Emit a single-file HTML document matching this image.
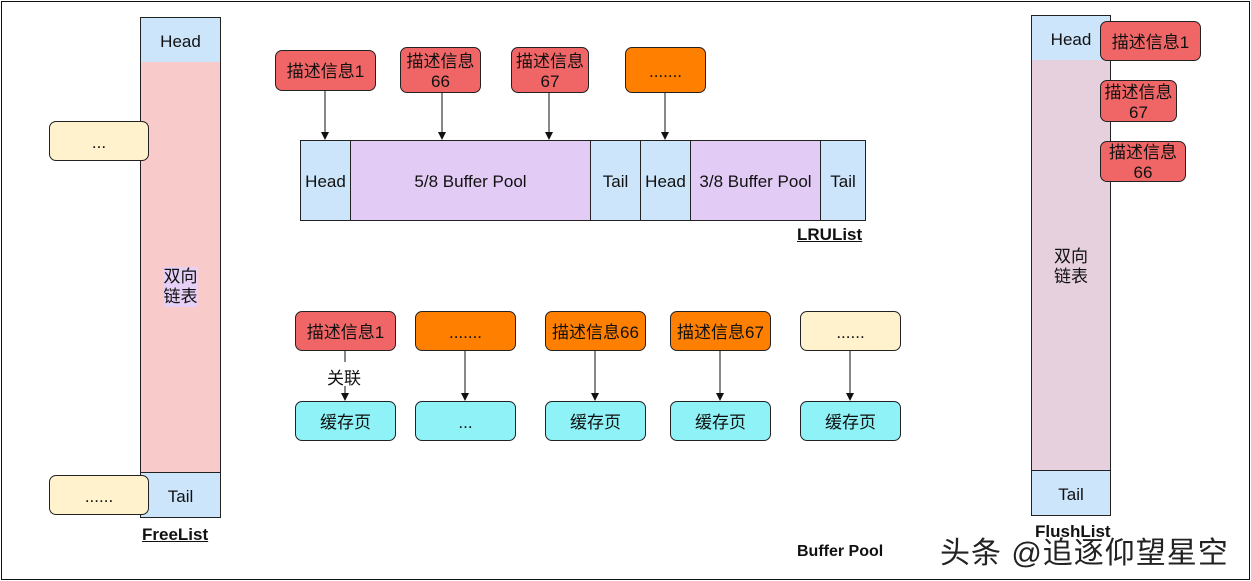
<!DOCTYPE html>
<html><head><meta charset="utf-8"><style>
body{margin:0;width:1251px;height:581px;background:#fff;position:relative;overflow:hidden;font-family:"Liberation Sans","Noto Sans CJK SC",sans-serif;color:#111;}
.b{position:absolute;box-sizing:border-box;border:1px solid #222;display:flex;align-items:center;justify-content:center;text-align:center;font-size:17px;line-height:20px;padding-top:3px;}
.r{border-radius:7px;}
.red{background:#f06666;}
.org{background:#ff8000;}
.yel{background:#fff2cc;}
.cy{background:#8ef2f6;}
.blu{background:#cce5fb;}
.pk{background:#f9caca;}
.pu{background:#e2cbf5;}
.fl{background:#e6d0de;}
.t{position:absolute;font-size:17px;}
.bold{font-weight:bold;text-decoration:underline;}
</style></head><body>
<div style="position:absolute;left:1px;top:1px;width:1247px;height:577px;border:1px solid #111;"></div>

<!-- FreeList -->
<div class="b blu" style="left:140px;top:17px;width:81px;height:46px;">Head</div>
<div class="b pk" style="left:140px;top:62px;width:81px;height:411px;border-top:none;padding-top:40px;"><span style="background:#e6d0f5">双向<br>链表</span></div>
<div class="b blu" style="left:140px;top:472px;width:81px;height:46px;">Tail</div>
<div class="b r yel" style="left:49px;top:121px;width:100px;height:40px;">...</div>
<div class="b r yel" style="left:49px;top:475px;width:100px;height:40px;">......</div>
<div class="t bold" style="left:142px;top:525px;">FreeList</div>

<!-- LRU -->
<div class="b blu" style="left:300px;top:140px;width:51px;height:81px;">Head</div>
<div class="b pu" style="left:350px;top:140px;width:241px;height:81px;">5/8 Buffer Pool</div>
<div class="b blu" style="left:590px;top:140px;width:51px;height:81px;">Tail</div>
<div class="b blu" style="left:640px;top:140px;width:51px;height:81px;">Head</div>
<div class="b pu" style="left:690px;top:140px;width:131px;height:81px;">3/8 Buffer Pool</div>
<div class="b blu" style="left:820px;top:140px;width:46px;height:81px;">Tail</div>
<div class="t bold" style="left:797px;top:225px;">LRUList</div>

<div class="b r red" style="left:275px;top:50px;width:101px;height:41px;">描述信息1</div>
<div class="b r red" style="left:400px;top:47px;width:81px;height:46px;">描述信息<br>66</div>
<div class="b r red" style="left:511px;top:47px;width:78px;height:46px;">描述信息<br>67</div>
<div class="b r org" style="left:625px;top:47px;width:81px;height:46px;">.......</div>

<!-- bottom row -->
<div class="b r red" style="left:295px;top:311px;width:101px;height:40px;">描述信息1</div>
<div class="b r org" style="left:415px;top:311px;width:101px;height:40px;">.......</div>
<div class="b r org" style="left:545px;top:311px;width:101px;height:40px;">描述信息66</div>
<div class="b r org" style="left:670px;top:311px;width:101px;height:40px;">描述信息67</div>
<div class="b r yel" style="left:800px;top:311px;width:101px;height:40px;">......</div>
<div class="b r cy" style="left:295px;top:401px;width:101px;height:40px;">缓存页</div>
<div class="b r cy" style="left:415px;top:401px;width:101px;height:40px;">...</div>
<div class="b r cy" style="left:545px;top:401px;width:101px;height:40px;">缓存页</div>
<div class="b r cy" style="left:670px;top:401px;width:101px;height:40px;">缓存页</div>
<div class="b r cy" style="left:800px;top:401px;width:101px;height:40px;">缓存页</div>

<svg style="position:absolute;left:0;top:0" width="1251" height="581">
<defs><marker id="a" markerWidth="8" markerHeight="8" refX="7" refY="4" orient="auto" markerUnits="userSpaceOnUse"><path d="M0,0 L8,4 L0,8 Z" fill="#111"/></marker></defs>
<g stroke="#111" stroke-width="1">
<line x1="325" y1="91" x2="325" y2="139" marker-end="url(#a)"/>
<line x1="442" y1="93" x2="442" y2="139" marker-end="url(#a)"/>
<line x1="549" y1="93" x2="549" y2="139" marker-end="url(#a)"/>
<line x1="665" y1="93" x2="665" y2="139" marker-end="url(#a)"/>
<line x1="345" y1="351" x2="345" y2="362"/>
<line x1="345" y1="386" x2="345" y2="400" marker-end="url(#a)"/>
<line x1="465" y1="351" x2="465" y2="400" marker-end="url(#a)"/>
<line x1="595" y1="351" x2="595" y2="400" marker-end="url(#a)"/>
<line x1="720" y1="351" x2="720" y2="400" marker-end="url(#a)"/>
<line x1="850" y1="351" x2="850" y2="400" marker-end="url(#a)"/>
</g></svg>
<div class="t" style="left:327px;top:364px;">关联</div>

<!-- FlushList -->
<div class="b blu" style="left:1031px;top:15px;width:80px;height:46px;">Head</div>
<div class="b fl" style="left:1031px;top:60px;width:80px;height:411px;border-top:none;">双向<br>链表</div>
<div class="b blu" style="left:1031px;top:470px;width:80px;height:46px;">Tail</div>
<div class="b r red" style="left:1100px;top:21px;width:101px;height:40px;">描述信息1</div>
<div class="b r red" style="left:1100px;top:80px;width:77px;height:42px;">描述信息<br>67</div>
<div class="b r red" style="left:1100px;top:141px;width:86px;height:41px;">描述信息<br>66</div>
<div class="t" style="left:1035px;top:522px;font-weight:bold;">FlushList</div>

<div class="t" style="left:797px;top:543px;font-weight:bold;font-size:16px;">Buffer Pool</div>
<div class="t" style="left:940px;top:528px;font-size:30px;color:#222;letter-spacing:1px;">头条 @追逐仰望星空</div>
</body></html>
